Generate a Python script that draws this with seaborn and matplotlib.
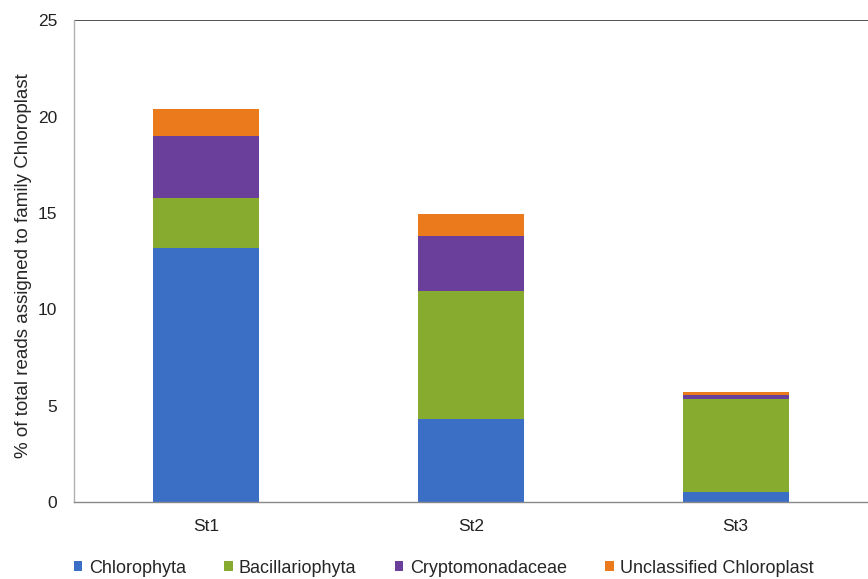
import numpy as np
import pandas as pd
import matplotlib
matplotlib.use("Agg")
import matplotlib.pyplot as plt
import seaborn as sns

stations = ["St1", "St2", "St3"]
chlorophyta = [13.2, 4.3, 0.5]
bacillariophyta = [2.6, 6.65, 4.85]
cryptomonadaceae = [3.2, 2.85, 0.2]
unclassified = [1.4, 1.15, 0.15]
series_names = ["Chlorophyta", "Bacillariophyta", "Cryptomonadaceae", "Unclassified Chloroplast"]
colors = ["#3b6fc6", "#86ab2f", "#6a3f9c", "#eb7a1c"]

sns.set_style("white")
plt.rcParams['font.family'] = ['Liberation Sans', 'DejaVu Sans']

fig = plt.figure(figsize=(8.68, 5.79), dpi=100)
ax = fig.add_axes([0.085, 0.133, 0.915, 0.832])

series = [chlorophyta, bacillariophyta, cryptomonadaceae, unclassified]
bottom = np.zeros(len(stations))
for name, vals, c in zip(series_names, series, colors):
    df = pd.DataFrame({"station": stations, "value": vals})
    sns.barplot(data=df, x="station", y="value", bottom=bottom, color=c,
                width=0.4, label=name, ax=ax, saturation=1, linewidth=0)
    bottom = bottom + np.array(vals)

ax.set_ylim(0, 25)
ax.set_yticks([0, 5, 10, 15, 20, 25])
ax.set_xlim(-0.5, 2.5)
ax.axhline(25, color="#333333", lw=1.2)
ax.set_xlabel("")
ax.set_ylabel("% of total reads assigned to family Chloroplast", fontsize=13.5)
ax.yaxis.set_label_coords(-0.053, 0.49)
ax.tick_params(axis="both", labelsize=12.5, length=0, colors="#222222")
ax.tick_params(axis="y", pad=12)
ax.tick_params(axis="x", pad=12)
for s in ["top", "right"]:
    ax.spines[s].set_visible(False)
ax.spines["left"].set_color("#b0b0b0")
ax.spines["bottom"].set_color("#888888")
ax.spines["left"].set_linewidth(1)
ax.spines["bottom"].set_linewidth(1)

ax.legend(loc="upper center", bbox_to_anchor=(0.466, -0.086), ncol=4, frameon=False,
          fontsize=13, handlelength=0.45, handleheight=0.45, handletextpad=0.35,
          columnspacing=2.15)

fig.savefig("out.png", dpi=100)
